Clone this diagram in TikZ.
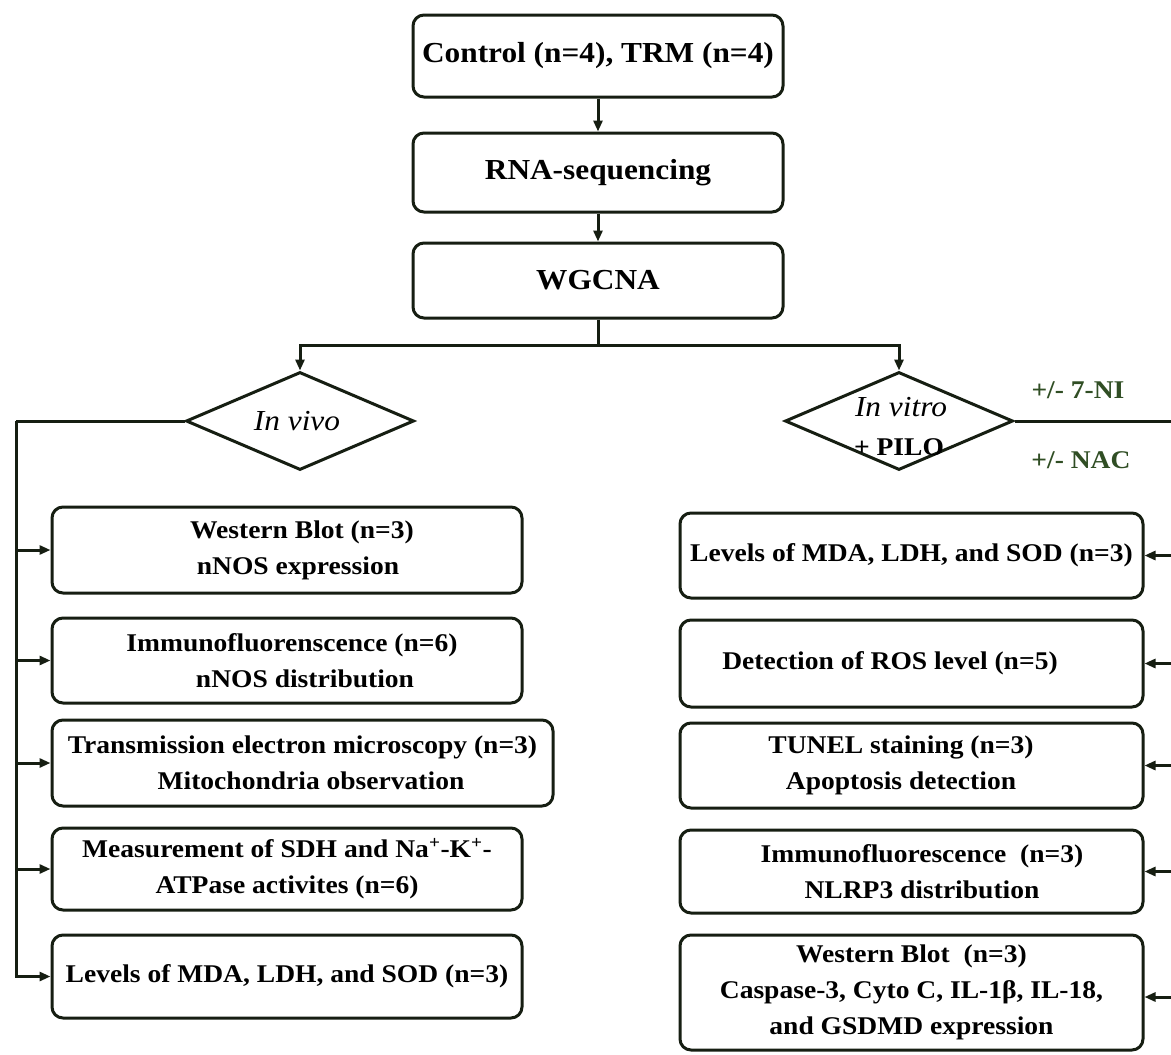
\documentclass[tikz,border=0pt]{standalone}
\usepackage{fontspec}
\setmainfont{Liberation Serif}[FakeStretch=1.08]
\usetikzlibrary{arrows.meta,shapes.geometric,calc}
\definecolor{lc}{RGB}{22,30,18}
\definecolor{gc}{RGB}{48,78,36}
\begin{document}
\begin{tikzpicture}[x=1pt,y=-1pt,
  box/.style={draw=lc,line width=3pt,rounded corners=11pt,fill=white,inner sep=2pt,align=center,font=\fontsize{25.5}{36}\selectfont\bfseries,text=black},
  topbox/.style={box,font=\fontsize{29}{35}\selectfont\bfseries,minimum width=370pt},
  lbox/.style={box,minimum width=470pt},
  rbox/.style={box,minimum width=463pt},
  dia/.style={draw=lc,line width=3pt,diamond,inner sep=0pt,minimum width=228pt,minimum height=98pt,fill=white},
  conn/.style={draw=lc,line width=3pt},
  arr/.style={conn,-{Triangle[length=11pt,width=9pt]}},
  lab/.style={font=\fontsize{25.5}{30}\selectfont\bfseries,text=gc},
  ital/.style={font=\fontsize{29}{30}\selectfont\itshape,text=black},
]
\fill[white] (0,0) rectangle (1171,1055);
\useasboundingbox (0,0) rectangle (1171,1055);

% top chain
\node[topbox,minimum height=82pt] (ctrl) at (598,56) {Control (n=4), TRM (n=4)};
\node[topbox,minimum height=79pt] (rna) at (598,172.5) {RNA-sequencing};
\node[topbox,minimum height=75pt] (wgcna) at (598,280.5) {WGCNA};

% diamonds
\node[dia] (vivo) at (300,421) {};
\node[dia] (vitro) at (899,421) {};
\node[ital] (vivot) at (297,421) {In vivo};
\node[ital] (vitrot) at (901,407) {In vitro};
\node[font=\fontsize{25.5}{30}\selectfont\bfseries] (pilo) at (899,447) {+ PILO};
\node[lab] (ni) at (1078,390) {+/- 7-NI};
\node[lab] (nac) at (1081,460) {+/- NAC};

% left boxes
\node[lbox,minimum height=86pt] (lwb) at (287,550) {\hspace*{30pt}Western Blot (n=3)\\\hspace*{22pt}nNOS expression};
\node[lbox,minimum height=85pt] (lif) at (287,660.5) {\hspace*{10pt}Immunofluorenscence (n=6)\\\hspace*{36pt}nNOS distribution};
\node[box,minimum width=501pt,minimum height=86pt] (ltem) at (302.5,763) {Transmission electron microscopy (n=3)\\\hspace*{17pt}Mitochondria observation};
\node[lbox,minimum height=82pt] (lmeas) at (287,869) {Measurement of SDH and Na\textsuperscript{+}-K\textsuperscript{+}-\\ATPase activites (n=6)};
\node[lbox,minimum height=83pt] (llev) at (287,976.5) {Levels of MDA, LDH, and SOD (n=3)};

% right boxes
\node[rbox,minimum height=85pt] (rlev) at (911.5,555.5) {Levels of MDA, LDH, and SOD (n=3)};
\node[rbox,minimum height=87pt] (rros) at (911.5,663.5) {Detection of ROS level (n=5)\hspace*{43pt}};
\node[rbox,minimum height=85pt] (rtun) at (911.5,765.5) {TUNEL staining (n=3)\hspace*{21pt}\\Apoptosis detection\hspace*{21pt}};
\node[rbox,minimum height=83pt] (rif) at (911.5,871.5) {\hspace*{21pt}Immunofluorescence\ \ (n=3)\\\hspace*{21pt}NLRP3 distribution};
\node[rbox,minimum height=115pt] (rwb) at (911.5,992.5) {Western Blot\ \ (n=3)\\Caspase-3, Cyto C, IL-1β, IL-18,\\and GSDMD expression};

% connectors
\draw[arr] (ctrl) -- (rna);
\draw[arr] (rna) -- (wgcna);
\coordinate (j) at (598,345);
\draw[conn] (wgcna.south) -- (j);
\draw[arr] (j) -| (vivo.north);
\draw[arr] (j) -| (vitro.north);

\coordinate (lt) at (16,421);
\draw[conn] (vivo.west) -- (lt);
\foreach \b in {lwb,lif,ltem,lmeas,llev} \draw[arr] (lt) |- (\b.west);

\coordinate (rt) at (1175,421);
\draw[conn] (vitro.east) -- (rt);
\foreach \b in {rlev,rros,rtun,rif} \draw[arr] (rt) |- (\b.east);
\draw[arr] (rt) |- ([yshift=-4.5pt]rwb.east);
\end{tikzpicture}
\end{document}
